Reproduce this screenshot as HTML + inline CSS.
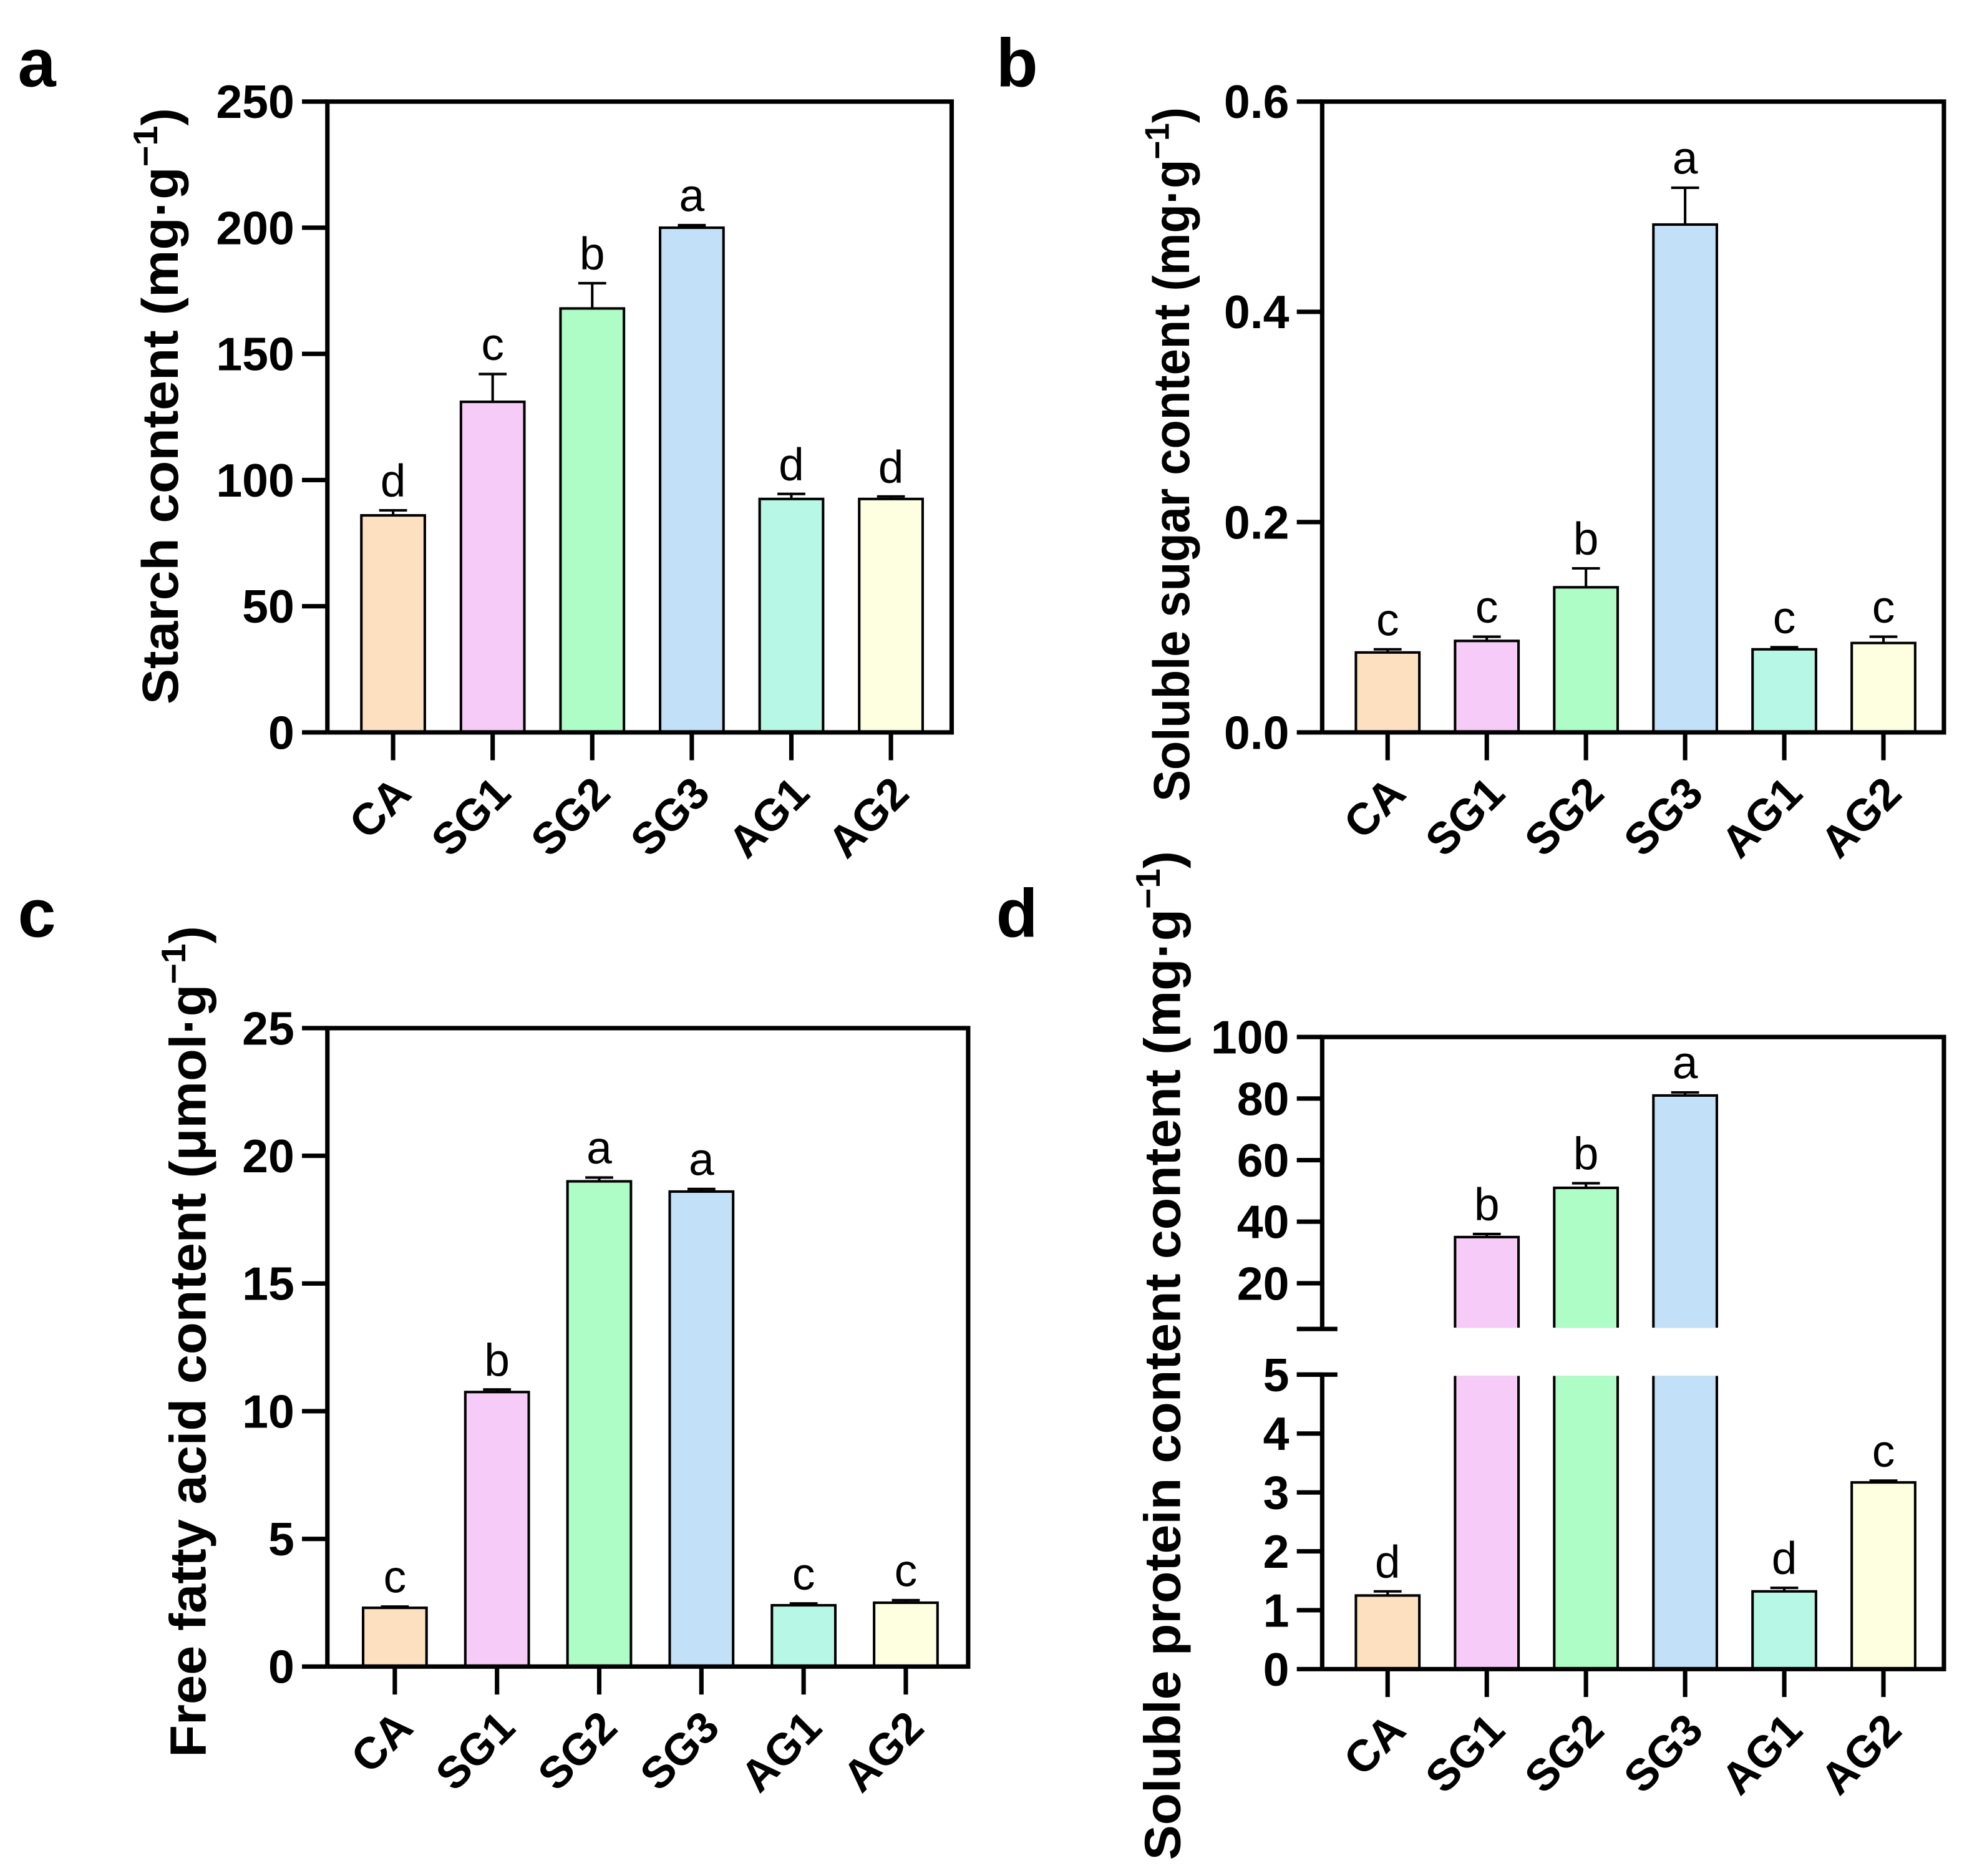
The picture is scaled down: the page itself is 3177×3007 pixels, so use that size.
<!DOCTYPE html>
<html><head><meta charset="utf-8"><style>
html,body{margin:0;padding:0;background:#fff;}
svg{display:block;}
text{font-family:"Liberation Sans",Arial,sans-serif;}
</style></head><body>
<svg id="fig" width="3177" height="3007" viewBox="0 0 1562 1478" preserveAspectRatio="none" xmlns="http://www.w3.org/2000/svg"></svg>
<script>
const categories = ["CA","SG1","SG2","SG3","AG1","AG2"];
const colors = ["#fde0c0","#f7cbf7","#aefcc6","#c2e0f7","#b6f7e6","#fefee0"];
const starchValues = [86,131,168,200,92.5,92.5];
const starchErrors = [2,11,10,1,2,1];
const starchLetters = ["d","c","b","a","d","d"];
const starchTicks = [0,50,100,150,200,250];
const sugarValues = [0.076,0.087,0.138,0.483,0.079,0.085];
const sugarErrors = [0.003,0.004,0.018,0.035,0.002,0.006];
const sugarLetters = ["c","c","b","a","c","c"];
const sugarTicks = [0,0.2,0.4,0.6];
const sugarTickLabels = ["0.0","0.2","0.4","0.6"];
const ffaValues = [2.3,10.75,19.0,18.6,2.4,2.5];
const ffaErrors = [0.05,0.1,0.15,0.1,0.07,0.1];
const ffaLetters = ["c","b","a","a","c","c"];
const ffaTicks = [0,5,10,15,20,25];
const proteinValues = [1.25,35,51,81,1.32,3.17];
const proteinErrors = [0.07,1,1.5,1,0.06,0.03];
const proteinLetters = ["d","b","b","a","d","c"];
const proteinLowTicks = [0,1,2,3,4,5];
const proteinHighTicks = [20,40,60,80,100];

const svg = document.getElementById('fig');
const NS = "http://www.w3.org/2000/svg";
function mk(tag, attrs, parent){
  const e = document.createElementNS(NS, tag);
  for (const k in attrs) e.setAttribute(k, attrs[k]);
  (parent||svg).appendChild(e);
  return e;
}
function txt(s, attrs, parent){ const t = mk('text', attrs, parent); t.textContent = s; return t; }

function panel(cfg){
  const g = mk('g', {});
  
  
  const {L,R,T,B} = cfg;
  const step = (R-L)/6.27;
  const xc = i => L + step*(0.66 + i);
  const bw = 50;
  const y = cfg.y;
  categories.forEach((c,i)=>{
    const v = cfg.values[i], e = cfg.errors[i];
    const yv = y(v), ye = y(v+e);
    const cx = xc(i);
    if (cfg.brk && v > cfg.brk.lowMax){
      const b1 = mk('rect',{x:cx-bw/2,y:cfg.brk.yLowTop,width:bw,height:B-cfg.brk.yLowTop,fill:colors[i],stroke:'#000','stroke-width':2},g);
      
      
      const b2 = mk('rect',{x:cx-bw/2,y:yv,width:bw,height:cfg.brk.yHighBot-yv,fill:colors[i],stroke:'#000','stroke-width':2},g);
      
      
      mk('rect',{x:cx-bw/2-2,y:cfg.brk.yHighBot-1,width:bw+4,height:cfg.brk.yLowTop-cfg.brk.yHighBot+2,fill:'#fff'},g);
    } else {
      const b = mk('rect',{x:cx-bw/2,y:yv,width:bw,height:B-yv,fill:colors[i],stroke:'#000','stroke-width':2},g);
      
      
    }
    const eb = mk('path',{d:`M${cx},${yv} V${ye} M${cx-11},${ye} H${cx+11}`,stroke:'#000','stroke-width':2,fill:'none'},g);
    
    
    const lt = txt(cfg.letters[i],{x:cx,y:ye-11,'font-size':36,'text-anchor':'middle'},g);
    
    
    mk('line',{x1:cx,y1:B,x2:cx,y2:B+22,stroke:'#000','stroke-width':3.5},g);
    const xl = txt(c,{x:0,y:0,'font-size':35,'font-weight':'bold','text-anchor':'end',transform:`translate(${cx+16},${B+50}) rotate(-45)`},g);
    
    
  });
  if (cfg.brk){
    mk('path',{d:`M${L},${B} V${cfg.brk.yLowTop} M${L},${cfg.brk.yHighBot} V${T} H${R} V${B} H${L}`,stroke:'#000','stroke-width':3.5,fill:'none'},g);
    mk('line',{x1:L-20,y1:cfg.brk.yHighBot,x2:L+12,y2:cfg.brk.yHighBot,stroke:'#000','stroke-width':3.5},g);
    mk('line',{x1:L-20,y1:cfg.brk.yLowTop,x2:L+12,y2:cfg.brk.yLowTop,stroke:'#000','stroke-width':3.5},g);
  } else {
    mk('path',{d:`M${L},${B} V${T} H${R} V${B} H${L}`,stroke:'#000','stroke-width':3.5,fill:'none'},g);
  }
  cfg.ticks.forEach((t,k)=>{
    const yy = y(t);
    mk('line',{x1:L-20,y1:yy,x2:L,y2:yy,stroke:'#000','stroke-width':3.5},g);
    const tl = txt(cfg.tickLabels ? cfg.tickLabels[k] : String(t),{x:L-26,y:yy+13,'font-size':37,'font-weight':'bold','text-anchor':'end'},g);
    
    
  });
  const yt = txt('',{x:0,y:0,'font-size':40,'font-weight':'bold','text-anchor':'middle',textLength:cfg.tlen,lengthAdjust:'spacingAndGlyphs',transform:`translate(${cfg.tx},${cfg.ty}) rotate(-90)`},g);
  yt.innerHTML = cfg.title + ' (' + cfg.unit + '<tspan dy="-16" font-size="27">−1</tspan><tspan dy="16">)</tspan>';
  
  
  const pl = txt(cfg.letter,{x:cfg.lx,y:cfg.ly,'font-size':54,'font-weight':'bold'},g);
  
  
}

panel({name:'panel-a-starch',L:258,R:750,T:80,B:577,values:starchValues,errors:starchErrors,letters:starchLetters,ticks:starchTicks,
  y:v=>577-v/250*497,title:'Starch content',unit:'mg·g',tx:140,ty:320,tlen:470,letter:'a',lx:14,ly:68});
panel({name:'panel-b-sugar',L:1042,R:1532,T:80,B:577,values:sugarValues,errors:sugarErrors,letters:sugarLetters,ticks:sugarTicks,tickLabels:sugarTickLabels,
  y:v=>577-v/0.6*497,title:'Soluble sugar content',unit:'mg·g',tx:937,ty:358,tlen:547,letter:'b',lx:785,ly:68});
panel({name:'panel-c-ffa',L:258,R:763,T:810,B:1313,values:ffaValues,errors:ffaErrors,letters:ffaLetters,ticks:ffaTicks,
  y:v=>1313-v/25*503,title:'Free fatty acid content',unit:'μmol·g',tx:162,ty:1057,tlen:655,letter:'c',lx:14,ly:738});
panel({name:'panel-d-protein',L:1042,R:1532,T:817,B:1315,values:proteinValues,errors:proteinErrors,letters:proteinLetters,
  ticks:proteinLowTicks.concat(proteinHighTicks),
  y:v=> v<=5 ? 1315-v*46.4 : 817+(100-v)*2.425,
  brk:{lowMax:5,yLowTop:1083,yHighBot:1047},
  title:'Soluble protein content content',unit:'mg·g',tx:930,ty:1068,tlen:795,letter:'d',lx:785,ly:738});
</script>
</body></html>
